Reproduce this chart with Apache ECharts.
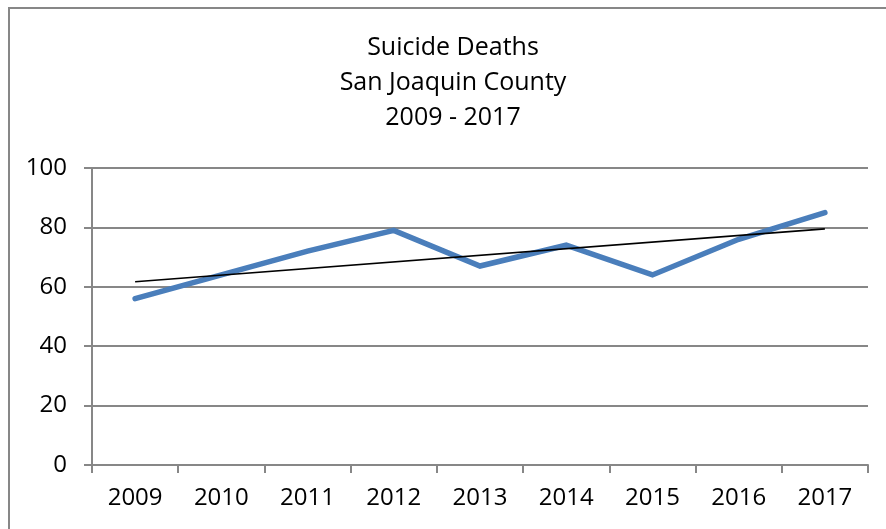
<!DOCTYPE html>
<html>
<head>
<meta charset="utf-8">
<script src="https://cdn.jsdelivr.net/npm/echarts@6/dist/echarts.min.js"></script>
<style>
html,body{margin:0;padding:0;background:#fff;}
#chart{width:886px;height:529px;}
</style>
</head>
<body>
<div id="chart"></div>
<script>
const titleLines = ['Suicide Deaths', 'San Joaquin County', '2009 - 2017'];
const years = ['2009','2010','2011','2012','2013','2014','2015','2016','2017'];
const deaths = [56, 64, 72, 79, 67, 74, 64, 76, 85];
const trendYears = ['2009', '2017'];
const trendValues = [61.7, 79.5];
const yTicks = [0, 20, 40, 60, 80, 100];

const FONT = '"Open Sans", "Noto Sans", sans-serif';
const GRAY = '#878787';

const chart = echarts.init(document.getElementById('chart'), null, {renderer: 'canvas'});
chart.setOption({
  animation: false,
  backgroundColor: '#fff',
  graphic: [{
    type: 'rect',
    shape: {x: 9, y: 8, width: 1000, height: 1000},
    style: {fill: 'none', stroke: GRAY, lineWidth: 2},
    silent: true, z: 0
  }],
  title: {
    text: titleLines.join('\n'),
    left: 453, top: 30, textAlign: 'center', padding: 0,
    textStyle: {fontFamily: FONT, fontSize: 25, fontWeight: 'normal', color: '#000', lineHeight: 35}
  },
  grid: {left: 92, right: 18, top: 168, bottom: 64, containLabel: false},
  xAxis: {
    type: 'category',
    data: years,
    boundaryGap: true,
    axisLine: {lineStyle: {color: GRAY, width: 2}},
    axisTick: {show: true, length: 8, lineStyle: {color: GRAY, width: 2}},
    axisLabel: {fontFamily: FONT, fontSize: 24, color: '#000', margin: 21},
    splitLine: {show: false}
  },
  yAxis: {
    type: 'value',
    min: yTicks[0], max: yTicks[yTicks.length - 1], interval: yTicks[1] - yTicks[0],
    axisLine: {show: true, lineStyle: {color: GRAY, width: 2}},
    axisTick: {show: true, length: 8, lineStyle: {color: GRAY, width: 2}},
    axisLabel: {fontFamily: FONT, fontSize: 24, color: '#000', margin: 25},
    splitLine: {show: true, lineStyle: {color: GRAY, width: 2}}
  },
  series: [
    {
      type: 'line',
      data: deaths,
      symbol: 'none',
      smooth: false,
      lineStyle: {color: '#4A7EBB', width: 5.5, cap: 'round', join: 'miter'},
      z: 2
    },
    {
      type: 'line',
      data: trendYears.map((y, i) => [y, trendValues[i]]),
      symbol: 'none',
      lineStyle: {color: '#000', width: 1.6},
      z: 3
    }
  ]
});
</script>
</body>
</html>
